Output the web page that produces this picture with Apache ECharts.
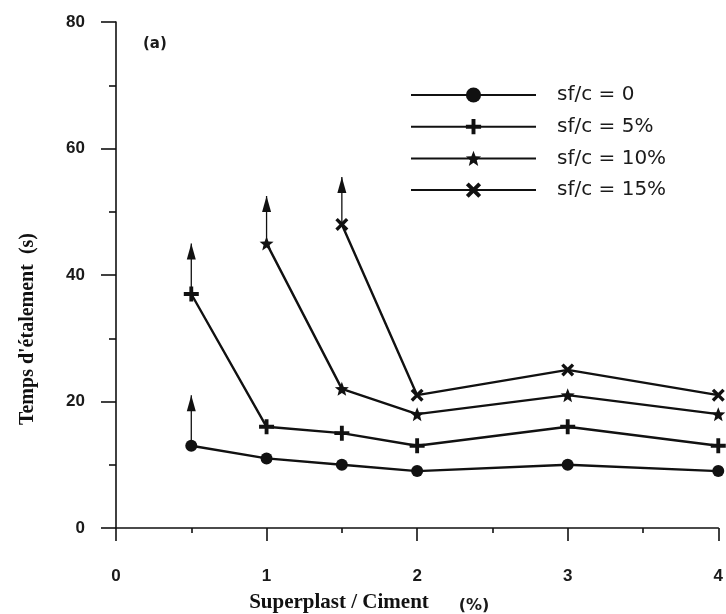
<!DOCTYPE html>
<html>
<head>
<meta charset="utf-8">
<script src="https://cdn.jsdelivr.net/npm/echarts@6/dist/echarts.min.js"></script>
<style>
  html, body { margin: 0; padding: 0; background: #fff; }
  #chart { width: 726px; height: 614px; }
</style>
</head>
<body>
<div id="chart"></div>
<script>
// Superplasticizer dosage (% of cement) at which spread time was measured
const dosage = [0.5, 1, 1.5, 2, 3, 4];

// Spread time (s) for each silica-fume / cement ratio; null = not measured
const sf0  = [13, 11, 10, 9, 10, 9];
const sf5  = [37, 16, 15, 13, 16, 13];
const sf10 = [null, 45, 22, 18, 21, 18];
const sf15 = [null, null, 48, 21, 25, 21];

const seriesNames = ['sf/c = 0', 'sf/c = 5%', 'sf/c = 10%', 'sf/c = 15%'];

// Upward arrows: first measured point is a lower bound; tip value of each arrow
const arrowTips = [21, 45, 52.5, 55.5];

const yTicks = { min: 0, max: 80, step: 20 };
const xTicks = { min: 0, max: 4, step: 1 };

const INK = '#111111';
const PLUS = 'path://M-1.8,-7L1.8,-7L1.8,-1.8L7,-1.8L7,1.8L1.8,1.8L1.8,7L-1.8,7L-1.8,1.8L-7,1.8L-7,-1.8L-1.8,-1.8Z';
const STAR = 'path://M0,-10L2.6,-3.5L9.511,-3.09L4.1,1.3L5.878,8.09L0,4.3L-5.878,8.09L-4.1,1.3L-9.511,-3.09L-2.6,-3.5Z';
const CROSS = 'path://M-6,-3.8L-3.8,-6L0,-2.2L3.8,-6L6,-3.8L2.2,0L6,3.8L3.8,6L0,2.2L-3.8,6L-6,3.8L-2.2,0Z';

const allValues = [sf0, sf5, sf10, sf15];
const symbols = ['circle', PLUS, STAR, CROSS];
const symbolSizes = [12, 15, 14, 13];

function pairs(vals) {
  const out = [];
  vals.forEach((v, i) => { if (v !== null) out.push([dosage[i], v]); });
  return out;
}

const series = allValues.map((vals, k) => ({
  name: seriesNames[k],
  type: 'line',
  data: pairs(vals),
  symbol: symbols[k],
  symbolSize: symbolSizes[k],
  showAllSymbol: true,
  itemStyle: { color: INK },
  lineStyle: { color: INK, width: 2.4 },
  z: 3
}));

// Arrow from the first measured point of each series up to its tip
allValues.forEach((vals, k) => {
  const first = vals.findIndex(v => v !== null);
  series.push({
    name: 'arrow' + k,
    type: 'line',
    silent: true,
    data: [
      { value: [dosage[first], vals[first]], symbol: 'none' },
      { value: [dosage[first], arrowTips[k]], symbol: 'triangle', symbolSize: [9, 16], symbolOffset: [0, '50%'] }
    ],
    itemStyle: { color: INK },
    lineStyle: { color: INK, width: 1.3 },
    z: 2
  });
});

const chart = echarts.init(document.getElementById('chart'), null, { renderer: 'canvas' });
chart.setOption({
  animation: false,
  backgroundColor: '#ffffff',
  grid: { left: 116, right: 4, top: 22, bottom: 86, containLabel: false },
  xAxis: {
    type: 'value',
    min: xTicks.min, max: xTicks.max, interval: xTicks.step,
    axisLine: { lineStyle: { color: INK, width: 1.6 } },
    axisTick: { show: true, inside: false, length: 13, lineStyle: { color: INK, width: 1.6 } },
    minorTick: { show: true, splitNumber: 2, length: 5, lineStyle: { color: INK, width: 1.6 } },
    splitLine: { show: false },
    axisLabel: { margin: 40, color: '#1a1a1a', fontFamily: 'Liberation Sans', fontWeight: 'bold', fontSize: 17 }
  },
  yAxis: {
    type: 'value',
    min: yTicks.min, max: yTicks.max, interval: yTicks.step,
    axisLine: { lineStyle: { color: INK, width: 1.6 } },
    axisTick: { show: true, inside: false, length: 15, lineStyle: { color: INK, width: 1.6 } },
    minorTick: { show: true, splitNumber: 2, length: 7, lineStyle: { color: INK, width: 1.6 } },
    splitLine: { show: false },
    axisLabel: { margin: 31, color: '#1a1a1a', fontFamily: 'Liberation Sans', fontWeight: 'bold', fontSize: 17 }
  },
  legend: {
    data: seriesNames,
    orient: 'vertical',
    left: 410,
    top: 85,
    padding: 0,
    itemWidth: 125,
    itemHeight: 19,
    itemGap: 11.7,
    selectedMode: false,
    textStyle: { color: '#1a1a1a', fontFamily: 'DejaVu Sans', fontSize: 20, padding: [0, 0, 0, 16] }
  },
  graphic: [
    {
      type: 'text', x: 143, y: 44,
      style: { text: '(a)', font: 'bold 15px "DejaVu Sans"', fill: '#1a1a1a', textVerticalAlign: 'middle' }
    },
    {
      type: 'text', x: 28, y: 329, rotation: Math.PI / 2,
      style: { text: "Temps d'étalement  (s)", font: 'bold 20px "Liberation Serif"', fill: '#111', textAlign: 'center', textVerticalAlign: 'middle' }
    },
    {
      type: 'text', x: 339, y: 603,
      style: { text: 'Superplast / Ciment', font: 'bold 21px "Liberation Serif"', fill: '#111', textAlign: 'center', textVerticalAlign: 'middle' }
    },
    {
      type: 'text', x: 474, y: 606,
      style: { text: '(%)', font: 'bold 16px "DejaVu Sans"', fill: '#1a1a1a', textAlign: 'center', textVerticalAlign: 'middle' }
    }
  ],
  series: series
});
</script>
</body>
</html>
